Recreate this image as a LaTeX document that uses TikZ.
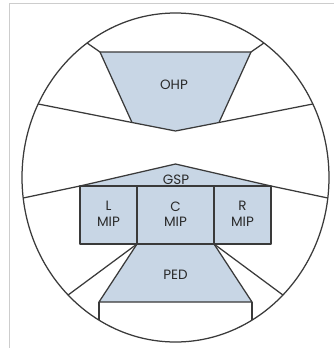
\documentclass[tikz,border=0pt]{standalone}
\usepackage{fontspec}
\setmainfont{Poppins}
\begin{document}
\begin{tikzpicture}[x=1pt,y=-1pt,
  ln/.style={draw=lineC,line width=1.25pt,line join=round},
  fl/.style={fill=fillC},
  lbl/.style={text=textC,font=\fontsize{13.5}{15.5}\selectfont,align=center,inner sep=0pt}]
\definecolor{lineC}{HTML}{3A3A3A}
\definecolor{fillC}{HTML}{C8D6E5}
\definecolor{textC}{HTML}{2A2A2A}
\definecolor{frameC}{HTML}{CDCDCD}
\useasboundingbox (0,0) rectangle (334,348);
\fill[white] (0,0) rectangle (334,348);
% frame
\draw[frameC,line width=1pt] (9,348) -- (9,3) -- (334,3);
% coordinates
\coordinate (c) at (175.5,177.5);
\coordinate (ul) at (87.1,43);
\coordinate (ur) at (263.9,43);
\coordinate (ohptl) at (100,52);
\coordinate (ohptr) at (251,52);
\coordinate (vl) at (38.2,104);
\coordinate (vr) at (312.8,104);
\coordinate (ohpbl) at (132,122.5);
\coordinate (ohpbr) at (219,122.5);
\coordinate (vc) at (175.5,131);
\coordinate (gl) at (23.2,198);
\coordinate (gr) at (327.8,198);
\coordinate (gp) at (175.5,164);
\coordinate (mtl) at (80,186);
\coordinate (mtr) at (271,186);
\coordinate (mbl) at (80,244);
\coordinate (mbr) at (271,244);
\coordinate (d1t) at (137,186);
\coordinate (d2t) at (214,186);
\coordinate (d1b) at (137,244);
\coordinate (d2b) at (214,244);
\coordinate (pbl) at (99,302);
\coordinate (pbr) at (252,302);
\coordinate (el) at (99,320);
\coordinate (er) at (252,320);
\coordinate (sl) at (68.1,295);
\coordinate (sr) at (282.9,295);
% fills
\fill[fl] (ohptl) -- (ohptr) -- (ohpbr) -- (vc) -- (ohpbl) -- cycle;
\fill[fl] (mtl) -- (gp) -- (mtr) -- (mbr) -- (mbl) -- cycle;
\fill[fl] (d1b) -- (d2b) -- (pbr) -- (pbl) -- cycle;
% outline ellipse
\draw[ln] (c) ellipse [x radius=153.5, y radius=164.5];
% upper lines
\draw[ln] (ul) -- (ohptl) -- (ohptr) -- (ur);
\draw[ln] (ohptl) -- (ohpbl);
\draw[ln] (ohptr) -- (ohpbr);
\draw[ln] (vl) -- (ohpbl) -- (vc) -- (ohpbr) -- (vr);
% lower lines
\draw[ln] (gl) -- (mtl) -- (gp) -- (mtr) -- (gr);
\draw[ln] (mtl) rectangle (mbr);
\draw[ln] (d1t) -- (d1b);
\draw[ln] (d2t) -- (d2b);
\draw[ln] (d1b) -- (pbl) -- (pbr) -- (d2b);
\draw[ln] (d1b) -- (sl);
\draw[ln] (d2b) -- (sr);
\draw[ln] (pbl) -- (el);
\draw[ln] (pbr) -- (er);
% labels
\node[lbl] (ohp) at (174,85) {OHP};
\node[lbl] (gsp) at (176,180) {GSP};
\node[lbl] (lmip) at (108.5,214) {L\\MIP};
\node[lbl] (cmip) at (175.5,214) {C\\MIP};
\node[lbl] (rmip) at (242.5,214) {R\\MIP};
\node[lbl] (ped) at (175.5,275) {PED};
\end{tikzpicture}
\end{document}
